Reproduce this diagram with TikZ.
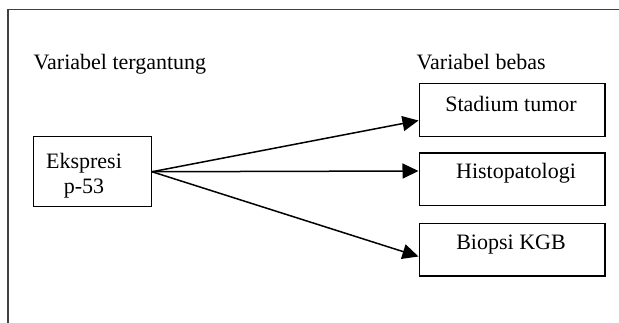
\documentclass[tikz,border=0pt]{standalone}
\usepackage{fontspec}
\setmainfont{Liberation Serif}
\usetikzlibrary{arrows.meta,calc}
\begin{document}
\begin{tikzpicture}[x=1pt,y=-1pt,
  box/.style={draw=black, line width=1.5pt, rectangle, inner sep=0pt, anchor=north west},
  txt/.style={font=\fontsize{22}{25}\selectfont, inner sep=0pt},
  arr/.style={line width=1.5pt, -{Triangle[length=16pt,width=15pt]}}]
\useasboundingbox (0,0) rectangle (619,323);
\draw[draw=black!75, line width=1.2pt] (8,9.5) rectangle (640,340);
\node[txt, anchor=base west] (vt) at (33.5,70) {Variabel tergantung};
\node[txt, anchor=base west] (vb) at (416.5,70) {Variabel bebas};
\node[box, minimum width=118pt, minimum height=70pt] (ek) at (32.5,136) {};
\node[txt, align=center] (ekt) at (84,176) {Ekspresi\\p-53};
\node[box, minimum width=185.5pt, minimum height=53pt] (st) at (418.5,83) {};
\node[txt] (stt) at (511,104) {Stadium tumor};
\node[box, minimum width=185.5pt, minimum height=52.5pt] (hi) at (418.5,152.5) {};
\node[txt] (hit) at (516,173) {Histopatologi};
\node[box, minimum width=185.5pt, minimum height=52.5pt] (bi) at (418.5,223) {};
\node[txt] (bit) at (511,245) {Biopsi KGB};
\draw[arr] (ek.east) -- ($(st.south west)+(0,-17)$);
\draw[arr] (ek.east) -- ($(hi.north west)+(0,18.5)$);
\draw[arr] (ek.east) -- ($(bi.north west)+(0,33.5)$);
\end{tikzpicture}
\end{document}
